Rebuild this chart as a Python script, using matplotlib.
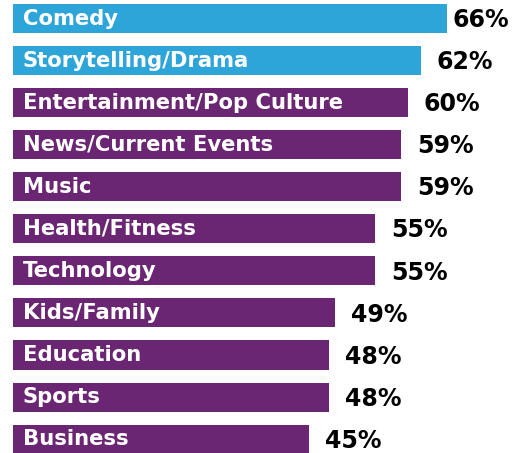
import matplotlib.pyplot as plt

categories = ['Comedy', 'Storytelling/Drama', 'Entertainment/Pop Culture',
              'News/Current Events', 'Music', 'Health/Fitness', 'Technology',
              'Kids/Family', 'Education', 'Sports', 'Business']
values = [66, 62, 60, 59, 59, 55, 55, 49, 48, 48, 45]
highlight = ['Comedy', 'Storytelling/Drama']

blue = '#2ea5d8'
purple = '#6a2672'

fig = plt.figure(figsize=(5.16, 4.53), dpi=100)
ax = fig.add_axes([0, 0, 1, 1])

px = 6.58  # pixels per percent
colors = [blue if c in highlight else purple for c in categories]
ypos = list(range(len(categories)))
ax.barh(ypos, values, height=0.69, color=colors)

for i, (c, v) in enumerate(zip(categories, values)):
    ax.text(10 / px, i, c, color='white', fontsize=15.2, fontweight='bold',
            va='center', ha='left')
    # first label would run off the edge, so it sits closer
    gap = 5 if i == 0 else 16
    ax.text(v + gap / px, i + 0.04, f'{v}%', color='black', fontsize=17,
            fontweight='bold', va='center', ha='left')

ax.set_xlim(-13 / px, (516 - 13) / px)
ax.set_ylim(10.33, -0.44)
ax.axis('off')

fig.savefig('out.png', dpi=100)
